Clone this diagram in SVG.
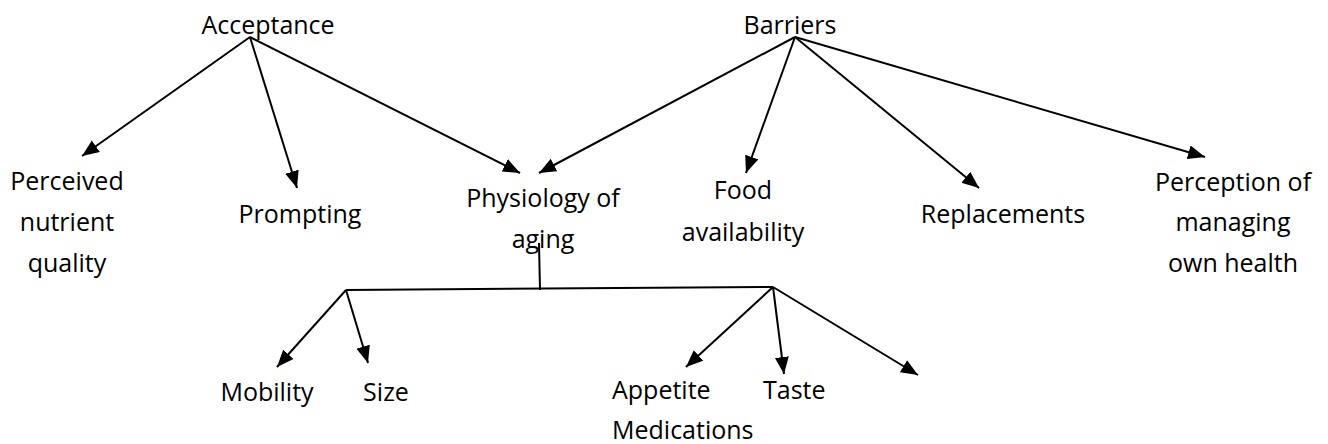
<svg xmlns="http://www.w3.org/2000/svg" width="1328" height="444" viewBox="0 0 1328 444">
<style>
text{font-family:"Open Sans","Noto Sans","Liberation Sans",sans-serif;font-size:25px;fill:#000;text-anchor:middle}
.s{text-anchor:start}
.c line{stroke:#000;stroke-width:2;fill:none}
.c line.a{marker-end:url(#ah)}
</style>
<defs>
<marker id="ah" markerUnits="userSpaceOnUse" markerWidth="18" markerHeight="15" refX="17" refY="7" orient="auto">
<path d="M0,0 L17,7 L0,14 z" fill="#000"/>
</marker>
</defs>
<rect width="1328" height="444" fill="#fff"/>
<g id="acceptance"><text x="268" y="34">Acceptance</text></g>
<g id="barriers"><text x="790" y="34">Barriers</text></g>
<g id="perceived"><text x="67" y="190">Perceived</text><text x="67" y="231">nutrient</text><text x="67" y="272">quality</text></g>
<g id="prompting"><text x="300" y="223">Prompting</text></g>
<g id="physiology"><text x="543" y="207">Physiology of</text><text x="543" y="248">aging</text></g>
<g id="food"><text x="743" y="199">Food</text><text x="743" y="241">availability</text></g>
<g id="replacements"><text x="1003" y="223">Replacements</text></g>
<g id="perception"><text x="1233" y="191">Perception of</text><text x="1233" y="231">managing</text><text x="1233" y="272">own health</text></g>
<g id="mobility"><text x="267" y="401">Mobility</text></g>
<g id="size"><text x="386" y="401">Size</text></g>
<g id="appetite"><text class="s" x="612" y="399">Appetite</text><text class="s" x="612" y="439">Medications</text></g>
<g id="taste"><text class="s" x="763" y="399">Taste</text></g>
<g class="c" id="connectors">
<line class="a" x1="250" y1="37" x2="82" y2="156"/>
<line class="a" x1="250" y1="37" x2="297" y2="188"/>
<line class="a" x1="250" y1="37" x2="520" y2="173"/>
<line class="a" x1="795" y1="37" x2="539" y2="173"/>
<line class="a" x1="795" y1="37" x2="746" y2="173"/>
<line class="a" x1="795" y1="37" x2="979" y2="188"/>
<line class="a" x1="795" y1="37" x2="1205" y2="157"/>
<line x1="539" y1="243" x2="540" y2="290"/>
<line x1="346" y1="290" x2="773" y2="287"/>
<line class="a" x1="346" y1="290" x2="277" y2="367"/>
<line class="a" x1="346" y1="290" x2="368" y2="363"/>
<line class="a" x1="773" y1="287" x2="686" y2="367"/>
<line class="a" x1="773" y1="287" x2="784" y2="374"/>
<line class="a" x1="773" y1="287" x2="918" y2="375"/>
</g>
</svg>
